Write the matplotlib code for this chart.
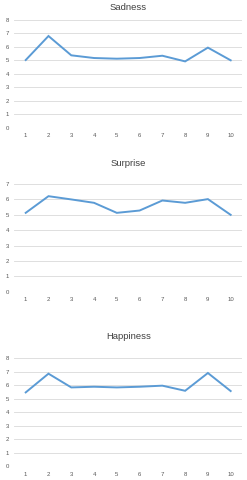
import matplotlib
matplotlib.use("Agg")
import matplotlib.pyplot as plt

sessions = [1, 2, 3, 4, 5, 6, 7, 8, 9, 10]
sadness = [5.01, 6.79, 5.36, 5.16, 5.11, 5.16, 5.33, 4.91, 5.93, 4.99]
surprise = [5.12, 6.20, 5.99, 5.77, 5.12, 5.27, 5.92, 5.77, 6.01, 4.99]
happiness = [5.47, 6.86, 5.84, 5.89, 5.84, 5.89, 5.97, 5.59, 6.91, 5.57]

# title, values, y max, (axes bottom, axes top), title y (fig fraction)
panels = [
    ("Sadness", sadness, 8, (0.734, 0.959), 0.985),
    ("Surprise", surprise, 7, (0.392, 0.617), 0.660),
    ("Happiness", happiness, 8, (0.029, 0.2535), 0.298),
]

plt.rcParams["font.family"] = ["Liberation Sans", "DejaVu Sans"]

fig = plt.figure(figsize=(2.47, 4.8), dpi=100)
fig.patch.set_facecolor("white")

for title, vals, ymax, (bot, top), ty in panels:
    ax = fig.add_axes([0.058, bot, 0.922, top - bot])
    ax.plot(sessions, vals, color="#5B9BD5", linewidth=1.4, solid_joinstyle="miter")
    ax.set_xlim(0.5, 10.5)
    ax.set_ylim(0, ymax)
    ax.set_xticks(sessions)
    ax.set_yticks(range(ymax + 1))
    ax.grid(axis="y", color="#D9D9D9", linewidth=0.6)
    ax.set_axisbelow(True)
    for s in ax.spines.values():
        s.set_visible(False)
    ax.tick_params(length=0, labelsize=4.3, labelcolor="#595959", pad=4)
    fig.text(0.52, ty, title, fontsize=6.8, color="#404040", ha="center", va="center")

fig.savefig("out.png", dpi=100)
